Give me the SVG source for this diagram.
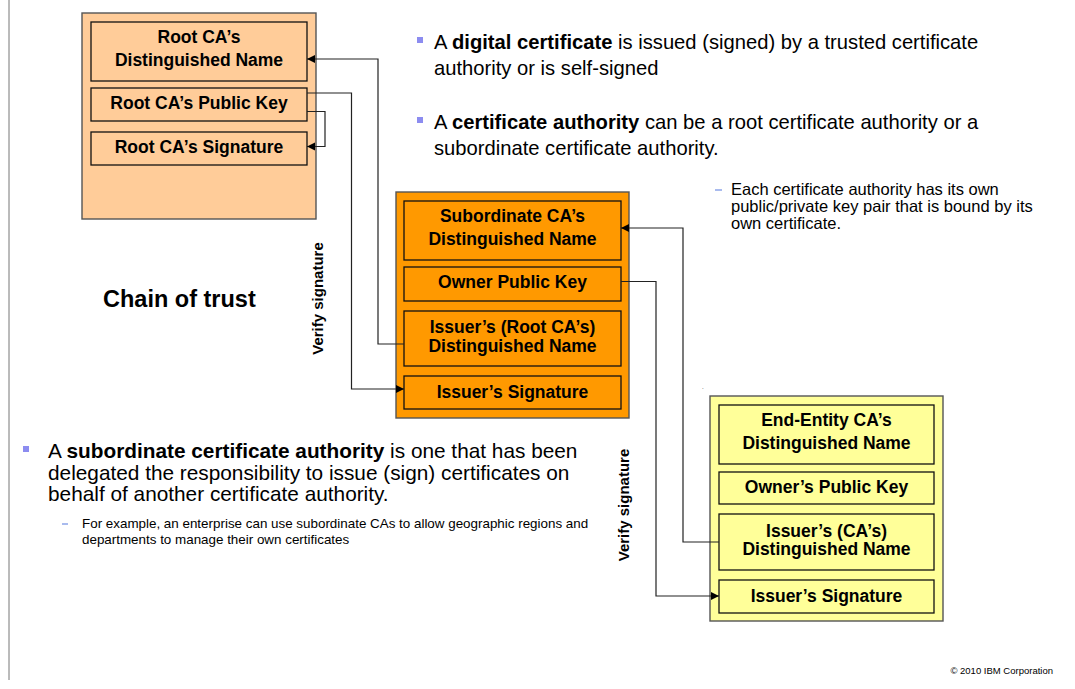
<svg xmlns="http://www.w3.org/2000/svg" width="1075" height="689" viewBox="0 0 1075 689">
  <style>
    text { font-family: "Liberation Sans", Arial, sans-serif; fill: #000; }
    .field { font-size: 17.5px; font-weight: bold; text-anchor: middle; }
    .cell { stroke: #111; stroke-width: 1.3; }
    .outer { stroke: #555; stroke-width: 1.4; }
    .root { fill: #FFCC99; }
    .sub { fill: #FF9900; }
    .ee { fill: #FFFF99; }
    .wire { fill: none; stroke: #222; stroke-width: 1.2; }
    .body { font-size: 20.2px; }
    .lead { font-size: 20.8px; }
    .small { font-size: 16.5px; }
    .tiny { font-size: 13.4px; }
    .vlabel { font-size: 15px; font-weight: bold; text-anchor: middle; }
    .bullet { fill: #8C8CF0; }
    .dash { stroke: #8CA4E8; stroke-width: 1.5; }
  </style>
  <defs>
    <marker id="arrow" markerUnits="userSpaceOnUse" markerWidth="9" markerHeight="9" refX="8" refY="4" orient="auto">
      <path d="M0,0 L8,4 L0,8 z" fill="#000"/>
    </marker>
  </defs>

  <rect width="1075" height="689" fill="#fff"/>
  <!-- page margin rule -->
  <line x1="9" y1="0" x2="9" y2="680" stroke="#777" stroke-width="1"/>

  <!-- root certificate -->
  <g id="root-ca">
    <rect class="outer root" x="82" y="13" width="234" height="206"/>
    <rect class="cell root" x="91" y="22" width="216" height="59"/>
    <text class="field" x="199" y="43">Root CA’s</text>
    <text class="field" x="199" y="66">Distinguished Name</text>
    <rect class="cell root" x="91" y="88" width="216" height="33"/>
    <text class="field" x="199" y="109">Root CA’s Public Key</text>
    <rect class="cell root" x="91" y="132" width="216" height="33"/>
    <text class="field" x="199" y="153">Root CA’s Signature</text>
  </g>

  <!-- subordinate certificate -->
  <g id="subordinate-ca">
    <rect class="outer sub" x="396" y="192" width="233" height="226"/>
    <rect class="cell sub" x="404" y="201" width="217" height="59"/>
    <text class="field" x="512.5" y="222">Subordinate CA’s</text>
    <text class="field" x="512.5" y="245">Distinguished Name</text>
    <rect class="cell sub" x="404" y="267" width="217" height="34"/>
    <text class="field" x="512.5" y="288">Owner Public Key</text>
    <rect class="cell sub" x="404" y="311" width="217" height="55"/>
    <text class="field" x="512.5" y="333">Issuer’s (Root CA’s)</text>
    <text class="field" x="512.5" y="352">Distinguished Name</text>
    <rect class="cell sub" x="404" y="376" width="217" height="33"/>
    <text class="field" x="512.5" y="398">Issuer’s Signature</text>
  </g>

  <!-- end-entity certificate -->
  <g id="end-entity">
    <rect class="outer ee" x="710" y="396" width="233" height="225"/>
    <rect class="cell ee" x="719" y="405" width="215" height="59"/>
    <text class="field" x="826.5" y="426">End-Entity CA’s</text>
    <text class="field" x="826.5" y="449">Distinguished Name</text>
    <rect class="cell ee" x="719" y="472" width="215" height="32"/>
    <text class="field" x="826.5" y="493">Owner’s Public Key</text>
    <rect class="cell ee" x="719" y="514" width="215" height="56"/>
    <text class="field" x="826.5" y="537">Issuer’s (CA’s)</text>
    <text class="field" x="826.5" y="555">Distinguished Name</text>
    <rect class="cell ee" x="719" y="580" width="215" height="33"/>
    <text class="field" x="826.5" y="602">Issuer’s Signature</text>
  </g>

  <!-- signature and name links -->
  <g id="connectors">
    <path class="wire" d="M404,344 H378 V59 H307" marker-end="url(#arrow)"/>
    <path class="wire" d="M307,93 H351.5 V389 H404" marker-end="url(#arrow)"/>
    <path class="wire" d="M307,111.5 H325 V146.5 H307" marker-end="url(#arrow)"/>
    <path class="wire" d="M719,542 H683 V228 H621" marker-end="url(#arrow)"/>
    <path class="wire" d="M621,281.5 H656 V596 H719" marker-end="url(#arrow)"/>
  </g>

  <g id="labels">
    <text class="vlabel" transform="translate(323,298.5) rotate(-90)">Verify signature</text>
    <text class="vlabel" transform="translate(629,505) rotate(-90)">Verify signature</text>
    <text x="103" y="307" font-size="23.5" font-weight="bold">Chain of trust</text>
    <text x="702" y="389" font-size="6">.</text>
  </g>

  <!-- explanatory bullets -->
  <g id="notes">
    <rect class="bullet" x="417" y="37" width="6" height="6"/>
    <text class="body" x="434" y="48.5">A <tspan font-weight="bold">digital certificate</tspan> is issued (signed) by a trusted certificate</text>
    <text class="body" x="434" y="74.5">authority or is self-signed</text>

    <rect class="bullet" x="417" y="117" width="6" height="6"/>
    <text class="body" x="434" y="128.5">A <tspan font-weight="bold">certificate authority</tspan> can be a root certificate authority or a</text>
    <text class="body" x="434" y="154.5">subordinate certificate authority.</text>

    <line class="dash" x1="715" y1="190" x2="722" y2="190"/>
    <text class="small" x="731" y="195">Each certificate authority has its own</text>
    <text class="small" x="731" y="212">public/private key pair that is bound by its</text>
    <text class="small" x="731" y="229">own certificate.</text>

    <rect class="bullet" x="23" y="446" width="6" height="6"/>
    <text class="lead" x="48" y="458">A <tspan font-weight="bold">subordinate certificate authority</tspan> is one that has been</text>
    <text class="lead" x="48" y="480">delegated the responsibility to issue (sign) certificates on</text>
    <text class="lead" x="48" y="501">behalf of another certificate authority.</text>

    <line class="dash" x1="62" y1="524" x2="68" y2="524"/>
    <text class="tiny" x="82" y="528">For example, an enterprise can use subordinate CAs to allow geographic regions and</text>
    <text class="tiny" x="82" y="544">departments to manage their own certificates</text>
  </g>

  <text x="1053" y="674" font-size="9.5" fill="#333" text-anchor="end">© 2010 IBM Corporation</text>
</svg>
